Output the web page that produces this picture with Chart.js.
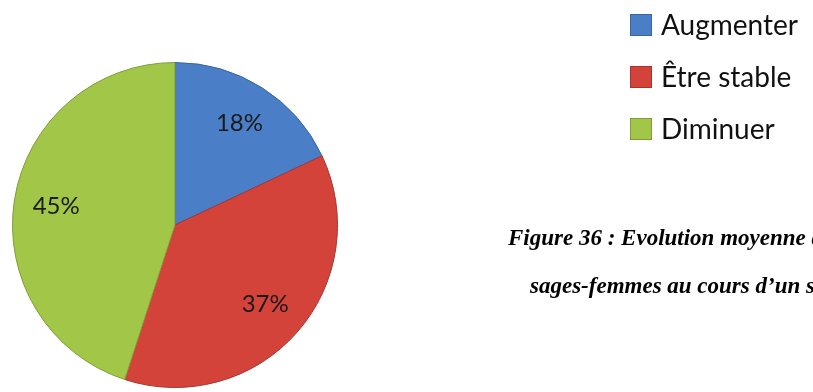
<!DOCTYPE html>
<html>
<head>
<meta charset="utf-8">
<script src="https://cdn.jsdelivr.net/npm/chart.js@4"></script>
<style>
    html, body { margin: 0; padding: 0; background: #fff; }
    .wrap { position: relative; width: 813px; height: 392px; overflow: hidden; }
    canvas { position: absolute; left: 0; top: 0; }
    .legend { position: absolute; left: 630px; top: 6px; font-family: Lato, sans-serif; font-size: 28px; color: #111; }
    .legend div { height: 52px; line-height: 36px; white-space: nowrap; }
    .legend span.box { display: inline-block; width: 20px; height: 20px; margin-right: 9px; vertical-align: -1px; }
    .caption { position: absolute; font-family: "Liberation Serif", serif; font-weight: bold; font-style: italic; font-size: 23px; white-space: nowrap; color: #000; }
</style>
</head>
<body>
<div class="wrap">
    <canvas id="pieChart" width="813" height="392"></canvas>
    <div class="legend" id="legend"></div>
    <div class="caption" style="left:508px; top:225px;">Figure 36 : Evolution moyenne de l’activité des</div>
    <div class="caption" style="left:530px; top:273px;">sages-femmes au cours d’un semestre</div>
</div>
<script>
const categories = ['Augmenter', 'Être stable', 'Diminuer'];
const values = [18, 37, 45];
const colors = ['#4a7fc8', '#d4433a', '#a2c648'];
const edgeColors = ['#3a64a0', '#a63530', '#7f9c38'];

// legend built from the same arrays
const legend = document.getElementById('legend');
categories.forEach((name, i) => {
    const row = document.createElement('div');
    row.innerHTML = '<span class="box" style="background:' + colors[i] + ';border:1px solid ' + edgeColors[i] + '"></span>' + name;
    legend.appendChild(row);
});

// percentage labels inside the slices
const sliceLabels = {
    id: 'sliceLabels',
    afterDatasetsDraw(chart) {
        const ctx = chart.ctx;
        const meta = chart.getDatasetMeta(0);
        ctx.save();
        ctx.font = '24px Lato, sans-serif';
        ctx.textAlign = 'center';
        ctx.textBaseline = 'middle';
        ctx.fillStyle = '#1a1a1a';
        meta.data.forEach((arc, i) => {
            const mid = (arc.startAngle + arc.endAngle) / 2;
            const r = arc.outerRadius * 0.74;
            ctx.fillText(values[i] + '%', arc.x + Math.cos(mid) * r, arc.y + Math.sin(mid) * r);
        });
        ctx.restore();
    }
};

const ctx = document.getElementById('pieChart').getContext('2d');
new Chart(ctx, {
    type: 'pie',
    data: {
        labels: categories,
        datasets: [{
            data: values,
            backgroundColor: colors,
            borderColor: edgeColors,
            borderWidth: 1
        }]
    },
    options: {
        responsive: false,
        animation: false,
        layout: {
            padding: { left: 12, top: 62, right: 475, bottom: 4 }
        },
        plugins: {
            legend: { display: false },
            tooltip: { enabled: false }
        }
    },
    plugins: [sliceLabels]
});
</script>
</body>
</html>
